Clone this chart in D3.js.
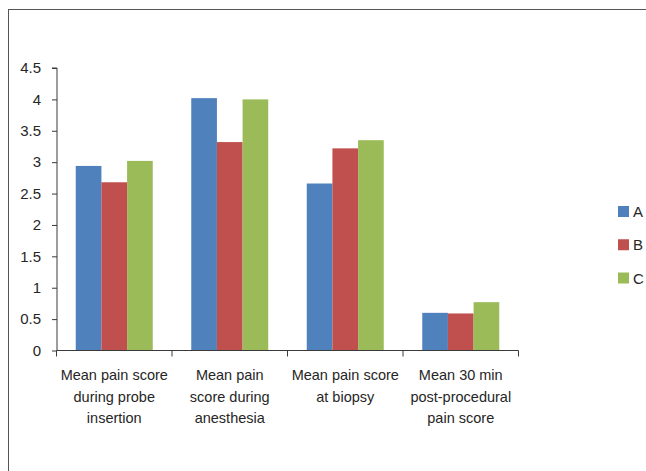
<!DOCTYPE html>
<html>
<head>
<meta charset="utf-8">
<script src="https://cdn.jsdelivr.net/npm/d3@7"></script>
<style>
  html, body { margin: 0; padding: 0; background: #fff; }
  svg { display: block; }
  text { font-family: "Liberation Sans", Arial, sans-serif; fill: #262626; }
</style>
</head>
<body>
<svg id="chart" width="646" height="471"></svg>
<script>
// Category labels (split into lines) and series values
const categories = [
  ["Mean pain score", "during probe", "insertion"],
  ["Mean pain", "score during", "anesthesia"],
  ["Mean pain score", "at biopsy"],
  ["Mean 30 min", "post-procedural", "pain score"]
];
const seriesNames = ["A", "B", "C"];
const seriesA = [2.94, 4.02, 2.66, 0.60];
const seriesB = [2.68, 3.32, 3.22, 0.59];
const seriesC = [3.02, 4.00, 3.35, 0.77];
const yTicks = [0, 0.5, 1, 1.5, 2, 2.5, 3, 3.5, 4, 4.5];
const colors = ["#4F81BD", "#C0504D", "#9BBB59"];

const series = [seriesA, seriesB, seriesC];
const svg = d3.select("#chart");

// outer frame
svg.append("rect")
  .attr("x", 8.5).attr("y", 9.5)
  .attr("width", 700).attr("height", 500)
  .attr("fill", "none").attr("stroke", "#555").attr("stroke-width", 1);

const plot = { left: 56.5, right: 518.5, top: 68, bottom: 350.5 };

const x0 = d3.scaleBand()
  .domain(d3.range(categories.length))
  .range([plot.left, plot.right])
  .paddingInner(0).paddingOuter(0);

const innerPad = 0.3333;
const x1 = d3.scaleBand()
  .domain(d3.range(seriesNames.length))
  .range([x0.bandwidth() * innerPad / 2, x0.bandwidth() * (1 - innerPad / 2)])
  .padding(0);

const y = d3.scaleLinear().domain([0, 4.5]).range([plot.bottom, plot.top]);

// bars
const groups = svg.append("g").selectAll("g")
  .data(categories.map((c, i) => i))
  .join("g")
  .attr("transform", i => `translate(${x0(i)},0)`);

groups.selectAll("rect")
  .data(i => series.map((s, k) => ({ k, v: s[i] })))
  .join("rect")
  .attr("x", d => x1(d.k))
  .attr("width", x1.bandwidth())
  .attr("y", d => y(d.v))
  .attr("height", d => y(0) - y(d.v))
  .attr("fill", d => colors[d.k]);

// y axis
const yAxis = svg.append("g")
  .attr("transform", `translate(${plot.left + 0.5},0)`)
  .call(d3.axisLeft(y).tickValues(yTicks).tickFormat(d3.format("~g")).tickSize(5).tickPadding(11));
yAxis.select(".domain").attr("stroke", "#3a3a3a").attr("d", `M-5,${plot.top}H0V${plot.bottom}`);
yAxis.selectAll(".tick line").attr("stroke", "#3a3a3a");
yAxis.selectAll(".tick text")
  .style("font-size", "15px")
  .attr("fill", "#262626")
  .style("font-family", "\"Liberation Sans\", Arial, sans-serif");

// x axis
const xAxis = svg.append("g")
  .attr("transform", `translate(0,${plot.bottom})`);
xAxis.append("line")
  .attr("x1", plot.left).attr("x2", plot.right)
  .attr("y1", 0).attr("y2", 0)
  .attr("stroke", "#3a3a3a");
const boundaries = d3.range(categories.length + 1).map(i =>
  i < categories.length ? x0(i) : x0(categories.length - 1) + x0.bandwidth());
xAxis.selectAll("line.tick")
  .data(boundaries)
  .join("line")
  .attr("class", "tick")
  .attr("x1", d => d).attr("x2", d => d)
  .attr("y1", 0).attr("y2", 6)
  .attr("stroke", "#3a3a3a");

// category labels
const labels = svg.append("g").selectAll("text")
  .data(categories)
  .join("text")
  .attr("x", (c, i) => x0(i) + x0.bandwidth() / 2)
  .attr("y", 380)
  .attr("text-anchor", "middle")
  .style("font-size", "14.5px");
labels.selectAll("tspan")
  .data(c => c)
  .join("tspan")
  .attr("x", function () { return this.parentNode.getAttribute("x"); })
  .attr("dy", (d, j) => j === 0 ? 0 : 21.5)
  .text(d => d);

// legend
const legendY = d3.scalePoint().domain(seriesNames).range([211.5, 278]);
const legend = svg.append("g").selectAll("g")
  .data(seriesNames)
  .join("g")
  .attr("transform", d => `translate(618,${legendY(d)})`);
legend.append("rect")
  .attr("x", 0).attr("y", -5.5)
  .attr("width", 11).attr("height", 11)
  .attr("fill", (d, i) => colors[i]);
legend.append("text")
  .attr("x", 15).attr("y", 5.5)
  .style("font-size", "15px")
  .text(d => d);
</script>
</body>
</html>
